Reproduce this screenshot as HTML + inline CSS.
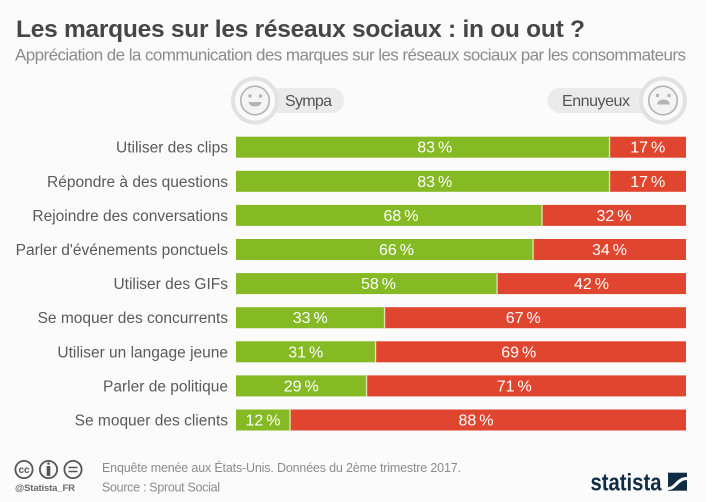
<!DOCTYPE html>
<html lang="fr">
<head>
<meta charset="utf-8">
<title>Les marques sur les réseaux sociaux : in ou out ?</title>
<style>
html,body{margin:0;padding:0;background:#fff;}
svg{display:block;font-family:"Liberation Sans",sans-serif;}
</style>
</head>
<body>
<svg id="chart" xmlns="http://www.w3.org/2000/svg" width="715" height="502" viewBox="0 0 715 502">
  <rect x="0" y="0" width="706" height="502" fill="#fbfbfb"/>
  <text x="16" y="37" font-size="24.5" font-weight="bold" fill="#464646" textLength="569" lengthAdjust="spacing">Les marques sur les réseaux sociaux : in ou out ?</text>
  <text x="15" y="60.5" font-size="17" fill="#8c8c8c" textLength="671" lengthAdjust="spacing">Appréciation de la communication des marques sur les réseaux sociaux par les consommateurs</text>

  <g>
    <rect x="250" y="88" width="94" height="25" rx="12.5" fill="#ebebeb"/>
    <circle cx="255" cy="100.5" r="22" fill="#fafafa" stroke="#e2e2e2" stroke-width="4"/>
    <circle cx="255" cy="100.5" r="14.3" fill="#f4f4f4" stroke="#b4b4b4" stroke-width="1.6"/>
    <circle cx="250" cy="96" r="1.7" fill="#b4b4b4"/>
    <circle cx="260.5" cy="96" r="1.7" fill="#b4b4b4"/>
    <path d="M248.5 102 H261.5 Q260.5 106.5 255 106.5 Q249.5 106.5 248.5 102 Z" fill="#b4b4b4"/>
    <text x="285" y="106" font-size="16" fill="#555" textLength="47" lengthAdjust="spacing">Sympa</text>
  </g>
  <g>
    <rect x="547.5" y="88" width="112" height="25" rx="12.5" fill="#ebebeb"/>
    <circle cx="663" cy="100.5" r="22" fill="#fafafa" stroke="#e2e2e2" stroke-width="4"/>
    <circle cx="663" cy="100.5" r="14.3" fill="#f4f4f4" stroke="#b4b4b4" stroke-width="1.6"/>
    <circle cx="657.5" cy="95.5" r="1.7" fill="#b4b4b4"/>
    <circle cx="669" cy="95.5" r="1.7" fill="#b4b4b4"/>
    <path d="M657 104.5 Q658 99.5 663.5 99.5 Q669 99.5 670 104.5 Z" fill="#b4b4b4"/>
    <text x="562" y="106" font-size="16" fill="#555" textLength="68" lengthAdjust="spacing">Ennuyeux</text>
  </g>

  <g id="bars"></g>

  <g fill="none" stroke="#555" stroke-width="1.8">
    <circle cx="24" cy="469.5" r="8.6"/>
    <circle cx="48.5" cy="469.5" r="8.6"/>
    <circle cx="73" cy="469.5" r="8.6"/>
    <path d="M48.5 466 V476" stroke-width="3.6"/>
    <circle cx="48.5" cy="463.5" r="1.3" fill="#555" stroke="none"/>
    <path d="M68.5 467.5 H77.5 M68.5 471.5 H77.5" stroke-width="1.6"/>
  </g>
  <text x="24" y="473" font-size="10" font-weight="bold" fill="#555" text-anchor="middle">cc</text>
  <text x="15" y="491" font-size="9.5" font-weight="bold" fill="#6a6a6a" textLength="60" lengthAdjust="spacing">@Statista_FR</text>
  <text x="102" y="472" font-size="12.5" fill="#8c8c8c" textLength="359" lengthAdjust="spacing">Enquête menée aux États-Unis. Données du 2ème trimestre 2017.</text>
  <text x="102" y="491.5" font-size="12.5" fill="#8c8c8c" textLength="118" lengthAdjust="spacing">Source : Sprout Social</text>

  <g>
    <text x="590.5" y="490.7" font-size="24" font-weight="bold" fill="#0f2c44" textLength="71" lengthAdjust="spacingAndGlyphs">statista</text>
    <rect x="668" y="472.7" width="19" height="18" fill="#0f2c44"/>
    <path d="M668 487 C675 487 676 477 687 477 V480 C678 480 677 490 668 490 Z" fill="#fbfbfb"/>
  </g>
</svg>
<script>
const categories = [
  "Utiliser des clips",
  "Répondre à des questions",
  "Rejoindre des conversations",
  "Parler d'événements ponctuels",
  "Utiliser des GIFs",
  "Se moquer des concurrents",
  "Utiliser un langage jeune",
  "Parler de politique",
  "Se moquer des clients"
];
const sympaValues = [83, 83, 68, 66, 58, 33, 31, 29, 12];
const ennuyeuxValues = [17, 17, 32, 34, 42, 67, 69, 71, 88];

const SVG_NS = "http://www.w3.org/2000/svg";
const barsGroup = document.getElementById("bars");
function xScale(v) { return 236 + v / 100 * 450; }
function yScale(i) { return 136.7 + i * 34.1; }
// Labels of segments wider than half the bar sit closer to the split.
function labelShift(v) { return v >= 50 ? 12 : 0; }
const BAR_H = 21;

function addRect(x, y, w, h, fill, name) {
  const el = document.createElementNS(SVG_NS, "rect");
  el.setAttribute("x", x);
  el.setAttribute("y", y);
  el.setAttribute("width", w);
  el.setAttribute("height", h);
  el.setAttribute("fill", fill);
  
  
  barsGroup.appendChild(el);
}
function addText(x, y, anchor, size, fill, content, name) {
  const el = document.createElementNS(SVG_NS, "text");
  el.setAttribute("x", x);
  el.setAttribute("y", y);
  el.setAttribute("text-anchor", anchor);
  el.setAttribute("font-size", size);
  el.setAttribute("fill", fill);
  el.textContent = content;
  
  
  barsGroup.appendChild(el);
  return el;
}

categories.forEach(function (cat, i) {
  const y = yScale(i);
  const base = y + BAR_H / 2 + 5.5;
  const split = xScale(sympaValues[i]);
  const end = xScale(sympaValues[i] + ennuyeuxValues[i]);
  addText(228, base, "end", 15.5, "#5a5a5a", cat, "category-label");
  addRect(xScale(0), y, split - xScale(0), BAR_H, "#85ba24", "bar-sympa");
  addRect(split, y, end - split, BAR_H, "#e04530", "bar-ennuyeux");
  addRect(split - 0.6, y, 1.3, BAR_H, "#e6e2b8", "bar-separator");
  const greenLabel = addText((xScale(0) + split) / 2 + labelShift(sympaValues[i]), base, "middle", 16, "#ffffff", sympaValues[i] + " %", "value-sympa");
  greenLabel.setAttribute("word-spacing", "-1.5");
  const redLabel = addText((split + end) / 2 - labelShift(ennuyeuxValues[i]), base, "middle", 16, "#ffffff", ennuyeuxValues[i] + " %", "value-ennuyeux");
  redLabel.setAttribute("word-spacing", "-1.5");
});
</script>
</body>
</html>
